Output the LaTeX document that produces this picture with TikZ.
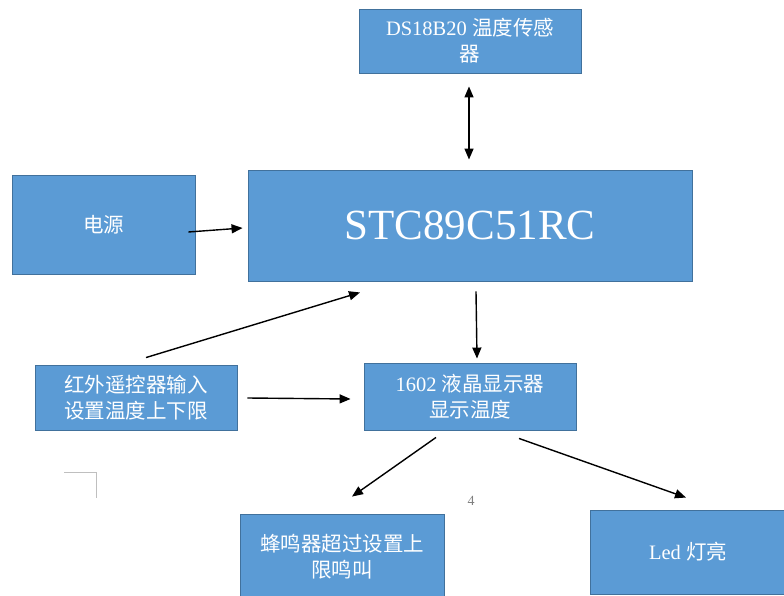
\documentclass[tikz,border=0pt]{standalone}
\usepackage{fontspec}
\setmainfont{Liberation Serif}
\newfontfamily\cjk{Noto Sans CJK SC}
\usetikzlibrary{calc,arrows.meta}
\definecolor{boxfill}{HTML}{5B9BD5}
\definecolor{boxline}{HTML}{41719C}
\tikzset{
  blk/.style={draw=boxline, line width=0.9pt, fill=boxfill, text=white, align=center, inner sep=0pt,
    font=\fontsize{20.5}{26}\selectfont},
  conn/.style={line width=1.4pt, -{Triangle[length=11pt,width=9pt]}},
  dconn/.style={line width=1.4pt, {Triangle[length=11pt,width=9pt]}-{Triangle[length=11pt,width=9pt]}},
}
\begin{document}
\begin{tikzpicture}[x=1pt,y=-1pt]
\useasboundingbox[fill=white] (0,0) rectangle (784,596);
\node[blk, minimum width=222pt, minimum height=64pt] (ds) at (470,41) {DS18B20 {\cjk 温度传感}\\{\cjk 器}};
\node[blk, minimum width=444pt, minimum height=111pt, font=\fontsize{43}{46}\selectfont] (stc) at (470,225.5) {STC89C51RC};
\node[blk, minimum width=183pt, minimum height=99pt] (pw) at (103.5,224.5) {\cjk 电源};
\node[blk, minimum width=202pt, minimum height=65pt] (ir) at (136,397.5) {\cjk 红外遥控器输入\\\cjk 设置温度上下限};
\node[blk, minimum width=212pt, minimum height=67pt] (lcd) at (470,396.5) {1602 {\cjk 液晶显示器}\\{\cjk 显示温度}};
\node[blk, minimum width=204pt, minimum height=86pt] (bz) at (342,557) {\cjk 蜂鸣器超过设置上\\\cjk 限鸣叫};
\node[blk, minimum width=196pt, minimum height=84pt] (led) at (688,552) {Led {\cjk 灯亮}};
\draw[dconn, shorten <=13pt, shorten >=10pt] ($(ds.south)+(-1,0)$) -- ($(stc.north)+(-1,0)$);
\draw[conn] ($(pw.east)+(-7,7.5)$) -- ($(stc.west)+(-5,2.5)$);
\draw[conn] ($(ir.north)+(10,-7)$) -- ($(stc.south)+(-110,11)$);
\draw[conn] ($(ir.east)+(10,0.5)$) -- ($(lcd.west)+(-13,2.5)$);
\draw[conn] ($(stc.south)+(6,10)$) -- ($(lcd.north)+(7,-4)$);
\draw[conn] ($(lcd.south)+(-34,7)$) -- ($(bz.north)+(10,-17)$);
\draw[conn] ($(lcd.south)+(49,8)$) -- ($(led.north)+(-2,-12)$);
\draw[gray!50, line width=0.8pt] (64,472) -- (96,472) -- (96,498);
\node[text=gray, font=\fontsize{14}{16}\selectfont, inner sep=0pt] (pg) at (471,501) {4};
\end{tikzpicture}
\end{document}
